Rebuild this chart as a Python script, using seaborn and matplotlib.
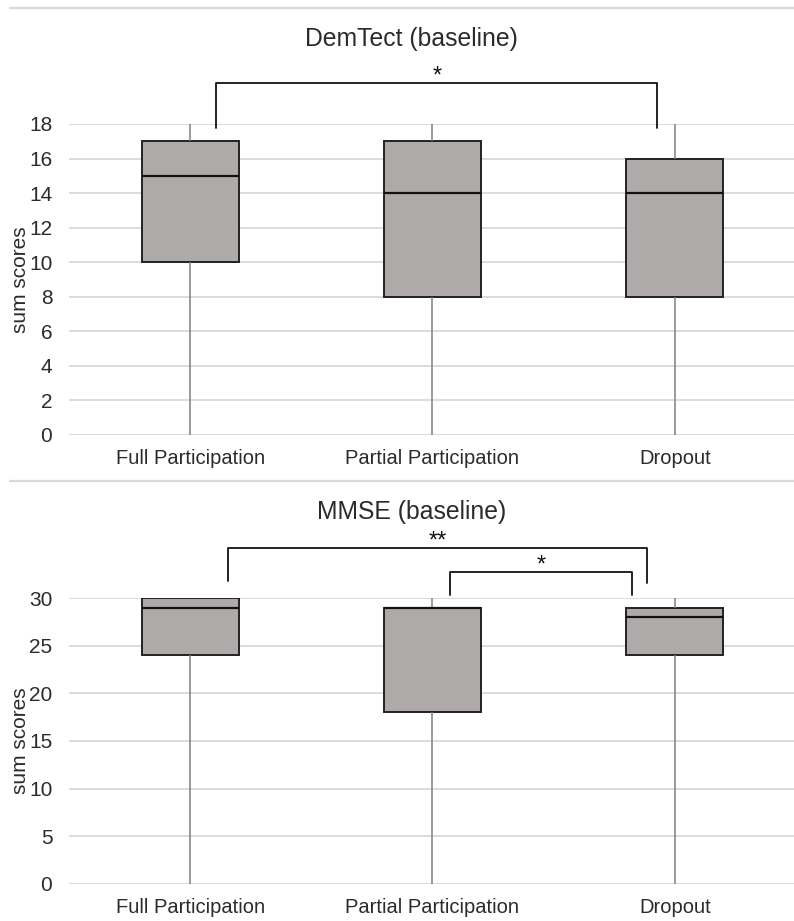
import matplotlib
matplotlib.use("Agg")
import matplotlib.pyplot as plt
from matplotlib.lines import Line2D
import pandas as pd
import seaborn as sns

groups = ["Full Participation", "Partial Participation", "Dropout"]

# five-number summaries (min, q1, median, q3, max)
demtect_full = [0, 10, 15, 17, 18]
demtect_partial = [0, 8, 14, 17, 18]
demtect_dropout = [0, 8, 14, 16, 18]

mmse_full = [0, 24, 29, 30, 30]
mmse_partial = [0, 18, 29, 29, 30]
mmse_dropout = [0, 24, 28, 29, 30]

demtect_ticks = [0, 2, 4, 6, 8, 10, 12, 14, 16, 18]
mmse_ticks = [0, 5, 10, 15, 20, 25, 30]

# significance brackets: (x_left, x_right, y_top, y_leg_left, y_leg_right, label)
demtect_brackets = [(0.107, 1.928, 20.37, 17.75, 17.75, "*")]
mmse_brackets = [
    (0.157, 1.885, 35.25, 31.8, 31.6, "**"),
    (1.074, 1.823, 32.75, 30.3, 30.3, "*"),
]

BOX_COLOR = "#aeaaa9"
TEXT_COLOR = "#2b2b2b"
GRID_COLOR = "#d9d9d9"


def long_frame(full, partial, dropout):
    rows = []
    for name, vals in zip(groups, [full, partial, dropout]):
        for v in vals:
            rows.append({"group": name, "score": v})
    return pd.DataFrame(rows)


def draw_panel(ax, data, ticks, brackets):
    sns.boxplot(
        data=data, x="group", y="score", order=groups, ax=ax,
        whis=(0, 100), showcaps=False, width=0.4, saturation=1,
        color=BOX_COLOR, linecolor="#222222", linewidth=1.4,
        showfliers=False,
        whiskerprops=dict(color="#7f7f7f", linewidth=1.1),
        medianprops=dict(color="#111111", linewidth=1.6),
    )
    ax.set_ylim(ticks[0], ticks[-1])
    ax.set_xlim(-0.5, 2.5)
    ax.set_yticks(ticks)
    ax.grid(axis="y", color=GRID_COLOR, linewidth=1.3)
    ax.grid(axis="x", visible=False)
    for s in ax.spines.values():
        s.set_visible(False)
    ax.tick_params(axis="y", length=0, pad=12, labelsize=15, labelcolor=TEXT_COLOR)
    ax.tick_params(axis="x", length=0, pad=10, labelsize=14.5, labelcolor=TEXT_COLOR)
    ax.set_xlabel("")
    ax.set_ylabel("sum scores", fontsize=15, color=TEXT_COLOR)
    ax.yaxis.set_label_coords(-0.054, 0.5)
    for x1, x2, yt, yl, yr, lab in brackets:
        ax.plot([x1, x1, x2, x2], [yl, yt, yt, yr], color="#111111",
                linewidth=1.3, clip_on=False)
        ax.text((x1 + x2) / 2, yt, lab, ha="center", va="baseline",
                fontsize=17, color="#111111", clip_on=False)


sns.set_theme(style="whitegrid")
plt.rcParams["font.family"] = ["Liberation Sans", "DejaVu Sans"]

fig = plt.figure(figsize=(7.94, 9.21), dpi=100)
ax_top = fig.add_axes([0.0869, 0.5277, 0.9156, 0.3377])
ax_bot = fig.add_axes([0.0869, 0.0402, 0.9156, 0.3105])

draw_panel(ax_top, long_frame(demtect_full, demtect_partial, demtect_dropout),
           demtect_ticks, demtect_brackets)
draw_panel(ax_bot, long_frame(mmse_full, mmse_partial, mmse_dropout),
           mmse_ticks, mmse_brackets)

fig.text(0.518, 0.950, "DemTect (baseline)", ha="center", va="baseline",
         fontsize=17.8, color=TEXT_COLOR)
fig.text(0.518, 0.4365, "MMSE (baseline)", ha="center", va="baseline",
         fontsize=17.8, color=TEXT_COLOR)

# chart frame separators
for yy in [1 - 8 / 921, 1 - 481 / 921]:
    fig.add_artist(Line2D([0.013, 1.0], [yy, yy], transform=fig.transFigure,
                          color=GRID_COLOR, linewidth=1.6))

fig.savefig("out.png", dpi=100)
